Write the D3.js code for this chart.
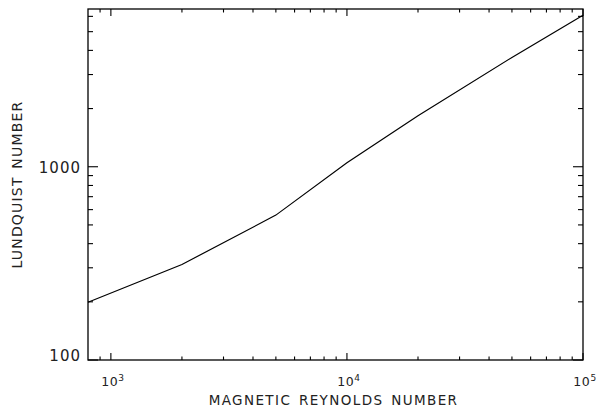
<!DOCTYPE html>
<html><head><meta charset="utf-8">
<script src="https://cdn.jsdelivr.net/npm/d3@7"></script>
<style>body{margin:0;background:#fff}svg{display:block}text{font-family:"DejaVu Sans",sans-serif;fill:#222}</style>
</head><body>
<script>
const reynolds = [800, 2000, 5000, 10000, 20000, 50000, 100000];
const lundquist = [199, 312, 562, 1050, 1836, 3680, 6080];
const xDomain = [800, 100000];
const yDomain = [100, 6550];
const xMajor = [1000, 10000, 100000];
const xMajorExp = ["3", "4", "5"];
const yMajor = [100, 1000];
const yMajorLabels = ["100", "1000"];
const xMinor = [900,2000,3000,4000,5000,6000,7000,8000,9000,20000,30000,40000,50000,60000,70000,80000,90000];
const yMinor = [200,300,400,500,600,700,800,900,2000,3000,4000,5000,6000];
const xTitle = "MAGNETIC REYNOLDS NUMBER";
const yTitle = "LUNDQUIST NUMBER";

const W = 598, H = 407;
const m = {left: 88, right: 15, top: 9, bottom: 47};
const svg = d3.select("body").append("svg").attr("width", W).attr("height", H);
const x = d3.scaleLog().domain(xDomain).range([m.left, W - m.right]);
const y = d3.scaleLog().domain(yDomain).range([H - m.bottom, m.top]);
const x0 = m.left, x1 = W - m.right, y0 = H - m.bottom, y1 = m.top;

const g = svg.append("g").attr("stroke", "#000").attr("stroke-width", 1.1);
svg.append("rect").attr("x", x0).attr("y", y1).attr("width", x1 - x0).attr("height", y0 - y1)
  .attr("fill", "none").attr("stroke", "#000").attr("stroke-width", 1.3);

function xt(v, len) {
  g.append("line").attr("x1", x(v)).attr("x2", x(v)).attr("y1", y0).attr("y2", y0 - len);
  g.append("line").attr("x1", x(v)).attr("x2", x(v)).attr("y1", y1).attr("y2", y1 + len);
}
function yt(v, len) {
  g.append("line").attr("y1", y(v)).attr("y2", y(v)).attr("x1", x0).attr("x2", x0 + len);
  g.append("line").attr("y1", y(v)).attr("y2", y(v)).attr("x1", x1).attr("x2", x1 - len);
}
xMajor.forEach(v => xt(v, 7));
xMinor.forEach(v => xt(v, 3.5));
yMajor.forEach(v => yt(v, 10));
yMinor.forEach(v => yt(v, 5));

xMajor.forEach((v, i) => {
  const t = svg.append("text").attr("x", x(v) + 2).attr("y", 386).attr("text-anchor", "middle")
    .attr("font-size", 12.5).attr("letter-spacing", 0.6);
  t.append("tspan").text("10");
  t.append("tspan").attr("dy", -5).attr("font-size", 9).text(xMajorExp[i]);
});
yMajor.forEach((v, i) => {
  svg.append("text").attr("x", 81).attr("y", y(v) + (i === 0 ? 1 : 6.5)).attr("text-anchor", "end")
    .attr("font-size", 15).attr("letter-spacing", 1).text(yMajorLabels[i]);
});
svg.append("text").attr("x", (x0 + x1) / 2 - 2).attr("y", 405).attr("text-anchor", "middle")
  .attr("font-size", 13.5).attr("letter-spacing", 1.4).attr("word-spacing", 2).text(xTitle);
svg.append("text").attr("transform", `translate(22,${(y0 + y1) / 2}) rotate(-90)`)
  .attr("text-anchor", "middle").attr("font-size", 14).attr("letter-spacing", 1.2)
  .attr("word-spacing", 2).text(yTitle);

const line = d3.line().x((d, i) => x(reynolds[i])).y(d => y(d));
svg.append("path").datum(lundquist).attr("d", line).attr("fill", "none")
  .attr("stroke", "#000").attr("stroke-width", 1.2);
</script>
</body></html>
